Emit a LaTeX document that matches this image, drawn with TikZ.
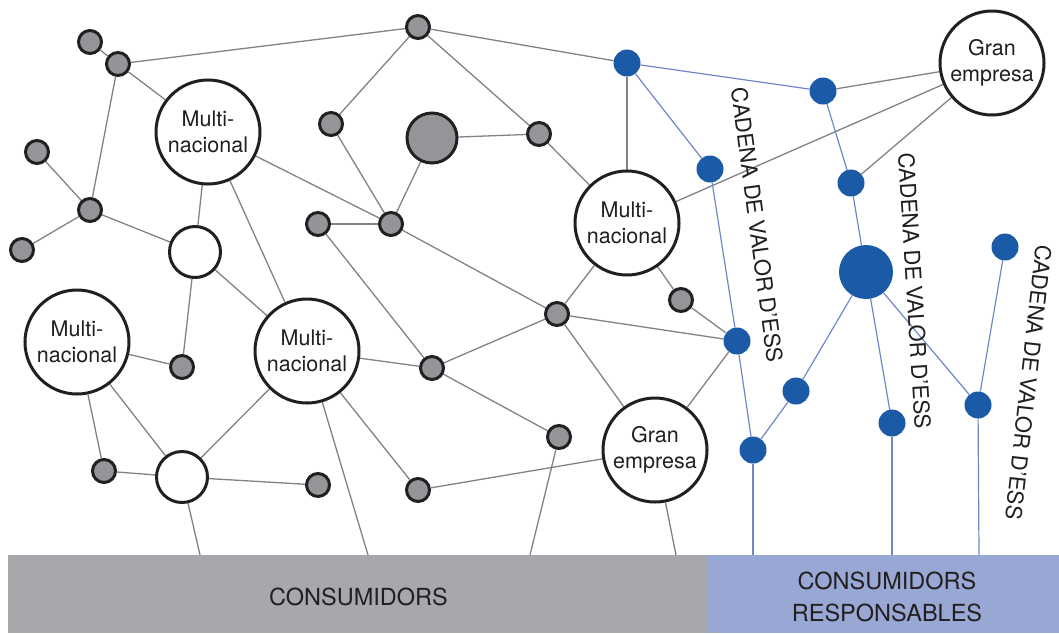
\documentclass[tikz,border=0pt]{standalone}
\usepackage{fontspec}
\setmainfont{TeX Gyre Heros}
\usetikzlibrary{backgrounds}

\definecolor{ink}{HTML}{231F20}
\definecolor{dotgray}{HTML}{939598}
\definecolor{edgegray}{HTML}{808285}
\definecolor{chainblue}{HTML}{1A5AA6}
\definecolor{edgeblue}{HTML}{6D87C8}
\definecolor{bargray}{HTML}{A7A8AB}
\definecolor{barblue}{HTML}{98A7D4}

\tikzset{
  gnode/.style={circle, draw=ink, line width=3pt, fill=dotgray, minimum size=23pt, inner sep=0pt},
  gbig/.style={gnode, minimum size=50pt},
  firm/.style={circle, draw=ink, line width=3pt, fill=white, minimum size=104pt, inner sep=0pt,
    align=center, text=ink, font=\fontsize{21.5}{26}\selectfont},
  hub/.style={circle, draw=ink, line width=3pt, fill=white, minimum size=51pt, inner sep=0pt},
  bnode/.style={circle, fill=chainblue, minimum size=27pt, inner sep=0pt},
  bbig/.style={bnode, minimum size=54pt},
  link/.style={draw=edgegray, line width=1.3pt},
  blink/.style={draw=edgeblue, line width=1.2pt},
  chain/.style={text=ink, font=\fontsize{22}{26}\selectfont, inner sep=0pt},
  bartext/.style={text=ink, align=center, font=\fontsize{23.5}{32}\selectfont, inner sep=0pt},
}

\begin{document}
\begin{tikzpicture}[x=1pt, y=-1pt]
\useasboundingbox (0,0) rectangle (1059,633);

% consumer bars
\fill[bargray] (8,555) rectangle (707,633);
\fill[barblue] (707,555) rectangle (1059,633);
\node[bartext] (cons) at (358.5,596.5) {CONSUMIDORS};
\node[bartext] (resp) at (887,596.5) {CONSUMIDORS\\RESPONSABLES};

% points where links meet the bars
\coordinate (c1) at (200,555);
\coordinate (c2) at (368,555);
\coordinate (c3) at (530,555);
\coordinate (c4) at (676,555);
\coordinate (c5) at (753,555);
\coordinate (c6) at (892,555);
\coordinate (c7) at (979,555);

% small gray nodes
\node[gnode] (g1) at (90,42) {};
\node[gnode] (g2) at (118,64) {};
\node[gnode] (g3) at (37,152) {};
\node[gnode] (g4) at (90,210) {};
\node[gnode] (g5) at (22,250) {};
\node[gnode] (g6) at (418,27) {};
\node[gnode] (g7) at (331,124) {};
\node[gnode] (g8) at (539,134) {};
\node[gbig]  (g9) at (432,138) {};
\node[gnode] (g10) at (318,224) {};
\node[gnode] (g11) at (391,224) {};
\node[gnode] (g12) at (681,300) {};
\node[gnode] (g13) at (557,314) {};
\node[gnode] (g14) at (182,367) {};
\node[gnode] (g15) at (432,368) {};
\node[gnode] (g16) at (559,437) {};
\node[gnode] (g17) at (104,471) {};
\node[gnode] (g18) at (318,485) {};
\node[gnode] (g19) at (418,490) {};

% companies
\node[firm] (m1) at (208,132) {Multi-\\nacional};
\node[firm] (m2) at (77,342) {Multi-\\nacional};
\node[firm] (m3) at (307,351) {Multi-\\nacional};
\node[firm] (m4) at (627,223) {Multi-\\nacional};
\node[firm] (e1) at (655,450) {Gran\\empresa};
\node[firm] (e2) at (992,63) {Gran\\empresa};
\node[hub] (w1) at (195,252) {};
\node[hub] (w2) at (182,477) {};

% value-chain nodes
\node[bnode] (b1) at (627,63) {};
\node[bnode] (b2) at (710,169) {};
\node[bnode] (b3) at (823,91) {};
\node[bnode] (b4) at (851,183) {};
\node[bbig]  (b5) at (866,272) {};
\node[bnode] (b6) at (1005,247) {};
\node[bnode] (b7) at (737,341) {};
\node[bnode] (b8) at (796,391) {};
\node[bnode] (b9) at (753,450) {};
\node[bnode] (b10) at (892,423) {};
\node[bnode] (b11) at (978,405) {};

% chain labels
\node[chain, rotate=-82.4] (l1) at (757,225) {CADENA DE VALOR D’ESS};
\node[chain, rotate=-86.5] (l2) at (914.5,291) {CADENA DE VALOR D’ESS};
\node[chain, rotate=-96.4] (l3) at (1028.5,382.5) {CADENA DE VALOR D’ESS};

\begin{scope}[on background layer]
% market links
\foreach \a/\b in {g1/g2, g2/g6, g2/m1, g2/g4, g3/g4, g5/g4, g4/w1, m1/w1, m1/m3,
    m1/g11, w1/m3, w1/g14, m2/g14, m2/g17, m2/w2, g17/w2, w2/m3, w2/g18, w2/c1,
    m3/g15, m3/g19, m3/c2, g6/g7, g6/g8, g6/b1, g7/g11, g9/g11, g9/g8, g8/m4,
    g10/g11, g10/g15, g11/g13, g15/g13, g15/g16, g13/m4, g13/b7, g13/e1, g16/c3,
    g19/e1, e1/b7, e1/c4, m4/g12, g12/b7, m4/b1, m4/e2, b3/e2, b4/e2}
  \draw[link] (\a) -- (\b);
% value-chain links
\foreach \a/\b in {b1/b3, b1/b2, b2/b7, b7/b9, b9/b8, b8/b5, b3/b4, b4/b5,
    b5/b10, b5/b11, b6/b11, b9/c5, b10/c6, b11/c7}
  \draw[blink] (\a) -- (\b);
\end{scope}
\end{tikzpicture}
\end{document}
